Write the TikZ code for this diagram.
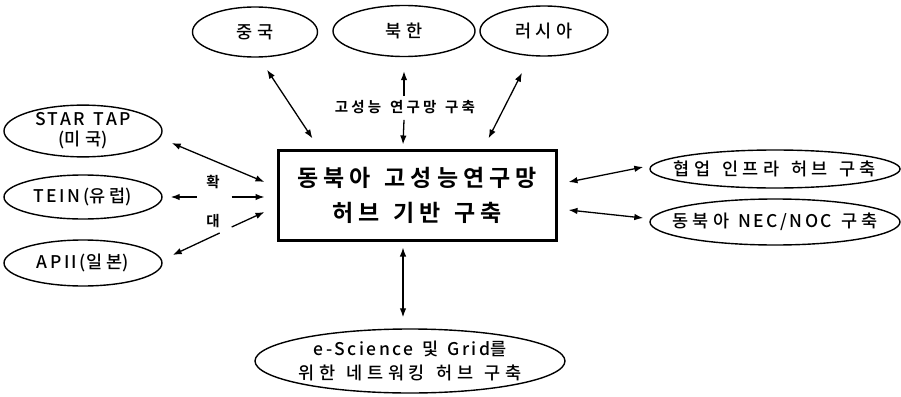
\documentclass[tikz,border=0pt]{standalone}
\usepackage{fontspec}
\setmainfont{Noto Sans CJK KR}[BoldFont={Noto Sans CJK KR Bold}]
\newfontfamily\krsp{Noto Sans CJK KR Medium}[LetterSpace=14,WordSpace=1.4]
\newfontfamily\kowide{Noto Sans CJK KR Medium}[LetterSpace=26,WordSpace=1.35]
\newfontfamily\krlbl{Noto Sans CJK KR Bold}[LetterSpace=22,WordSpace=1.5]
\newfontfamily\krbold{Noto Sans CJK KR Bold}[LetterSpace=22,WordSpace=1.35]
\newcommand\ko[1]{{\kowide #1}}
\usetikzlibrary{shapes.geometric,arrows.meta,calc}
\begin{document}
\begin{tikzpicture}[x=1pt,y=-1pt,
  oval/.style={ellipse,draw,line width=1.4pt,inner sep=0pt,align=center,
     font=\krsp\fontsize{17.5}{24}\selectfont},
  wideoval/.style={oval,inner xsep=-30pt},
  hub/.style={rectangle,draw,line width=3pt,inner sep=0pt,align=center,
     minimum width=278pt,minimum height=90pt,
     font=\krbold\fontsize{23}{35}\selectfont},
  arr/.style={line width=1.3pt,-{Latex[length=9pt,width=6.5pt]}},
  darr/.style={line width=1.3pt,{Latex[length=9pt,width=6.5pt]}-{Latex[length=9pt,width=6.5pt]}},
  lbl/.style={inner sep=0pt,font=\krlbl\fontsize{14.5}{16}\selectfont}]
\useasboundingbox (0,0) rectangle (901,396);

\node[oval,minimum width=125pt,minimum height=50pt] (china) at (255,32) {\ko{중국}};
\node[oval,minimum width=142pt,minimum height=51pt] (nk) at (404,31) {\ko{북한}};
\node[oval,minimum width=128pt,minimum height=50pt] (russia) at (544,31) {\ko{러시아}};

\node[oval,minimum width=158pt,minimum height=48pt,font=\krsp\fontsize{17.5}{20}\selectfont] (star) at (83,131) {STAR TAP\\(\ko{미국})};
\node[oval,minimum width=158pt,minimum height=44pt] (tein) at (83,197) {TEIN(\ko{유럽})};
\node[oval,minimum width=158pt,minimum height=46pt] (apii) at (83,263) {APII(\ko{일본})};

\node[wideoval,minimum width=250pt,minimum height=38pt] (collab) at (775,169) {\ko{협업 인프라 허브 구축}};
\node[wideoval,minimum width=250pt,minimum height=46pt] (nec) at (775,222) {\ko{동북아} NEC/NOC \ko{구축}};

\node[wideoval,minimum width=310pt,minimum height=64pt] (esci) at (410,361) {e-Science \ko{및} Grid\ko{를}\\\ko{위한 네트워킹 허브 구축}};

\node[hub] (hub) at (417,195) {동북아 고성능연구망\\허브 기반 구축};

\node[lbl] (l1) at (405,107) {고성능 연구망 구축};
\node[lbl] (l2) at (213,182) {확};
\node[lbl] (l3) at (213,221) {대};

% top connectors
\draw[darr] ($(china.south)+(12,12)$) -- ($(hub.north west)+(36,-10)$);
\draw[arr] (l1.north -| nk.south) ++(0,-4) -- ($(nk.south)+(0,14)$);
\draw[arr] (l1.south -| nk.south) ++(0,6) -- ($(hub.north)+(-14,-4)$);
\draw[darr] ($(russia.south)+(-22,16)$) -- ($(hub.north east)+(-69,-10)$);

% left connectors
\draw[darr] ($(star.east)+(9,12)$) -- ($(hub.west)+(-12,-13)$);
\draw[arr] ($(tein.east)+(34,0)$) -- ($(tein.east)+(8,0)$);
\draw[arr] ($(tein.east)+(69,0)$) -- ($(hub.west)+(-12,2)$);
\draw[arr] ($(apii.east)+(69,-36)$) -- ($(hub.west)+(-12,17)$);
\draw[arr] ($(apii.east)+(57,-30)$) -- ($(apii.east)+(10,-8)$);

% right connectors
\draw[darr] ($(hub.east)+(11,-13)$) -- ($(collab.west)+(-6,-2)$);
\draw[darr] ($(hub.east)+(11,15)$) -- ($(nec.west)+(-6,-4)$);

% bottom connector
\draw[darr] ($(hub.south)+(-14,6)$) -- ($(esci.north)+(-7,-11)$);
\end{tikzpicture}
\end{document}
